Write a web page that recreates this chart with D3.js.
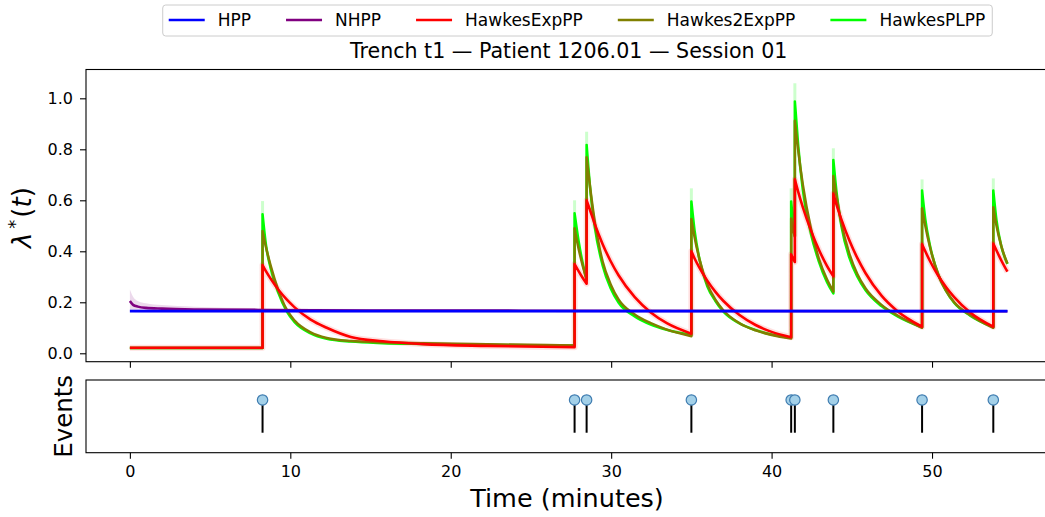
<!DOCTYPE html>
<html>
<head>
<meta charset="utf-8">
<script src="https://cdn.jsdelivr.net/npm/d3@7"></script>
<style>
body { margin: 0; background: #fff; }
text { font-family: "DejaVu Sans", sans-serif; fill: #000; }
</style>
</head>
<body>
<div id="main"></div>
<script>
// event times (minutes) and end of session
const eventTimes = [8.27, 27.72, 28.47, 35.0, 41.22, 41.45, 43.85, 49.38, 53.82];
const tEnd = 54.7;
const hppRate = 0.165;

// NHPP curve and its band
const nhppT = [0, 0.2, 0.5, 1, 2, 4, 8, 15, 25, 40, 54.7];
const nhppVal = [0.205, 0.19, 0.183, 0.178, 0.175, 0.172, 0.170, 0.168, 0.167, 0.166, 0.165];
const nhppUpper = [0.25, 0.222, 0.205, 0.196, 0.189, 0.183, 0.177, 0.174, 0.172, 0.171, 0.171];
const nhppLower = [0.165, 0.162, 0.161, 0.160, 0.160, 0.160, 0.160, 0.160, 0.160, 0.160, 0.160];

// sample times between events (one list per inter-event segment)
const segTimes = [
	[0, 8.27],
	[8.27, 8.47, 8.77, 9.27, 9.77, 10.27, 11.27, 12.27, 13.77, 15.77, 18.27, 22.27, 27.72],
	[27.72, 27.97, 28.22, 28.47],
	[28.47, 28.67, 28.97, 29.47, 29.97, 30.47, 31.47, 32.47, 33.47, 35.0],
	[35.0, 35.2, 35.5, 36.0, 36.5, 37.0, 38.0, 39.0, 40.0, 41.22],
	[41.22, 41.33, 41.45],
	[41.45, 41.65, 41.95, 42.45, 42.95, 43.45, 43.85],
	[43.85, 44.05, 44.35, 44.85, 45.35, 45.85, 46.85, 47.85, 49.38],
	[49.38, 49.58, 49.88, 50.38, 50.88, 51.38, 52.38, 53.82],
	[53.82, 54.02, 54.32, 54.7]
];

const hawkesExp = [
	[0.022, 0.022],
	[0.346, 0.323, 0.293, 0.248, 0.211, 0.180, 0.132, 0.100, 0.064, 0.047, 0.036, 0.029, 0.024],
	[0.350, 0.322, 0.296, 0.273],
	[0.600, 0.564, 0.508, 0.428, 0.361, 0.305, 0.220, 0.160, 0.118, 0.077],
	[0.400, 0.372, 0.336, 0.284, 0.241, 0.205, 0.150, 0.111, 0.084, 0.063],
	[0.388, 0.372, 0.358],
	[0.682, 0.635, 0.572, 0.482, 0.406, 0.343, 0.302],
	[0.626, 0.582, 0.525, 0.442, 0.373, 0.315, 0.226, 0.165, 0.104],
	[0.428, 0.400, 0.361, 0.305, 0.259, 0.220, 0.160, 0.104],
	[0.430, 0.403, 0.364, 0.320]
];

const hawkes2Exp = [
	[0.021, 0.021],
	[0.480, 0.420, 0.345, 0.245, 0.172, 0.128, 0.082, 0.060, 0.048, 0.043, 0.039, 0.035, 0.031],
	[0.490, 0.410, 0.345, 0.288],
	[0.769, 0.660, 0.520, 0.360, 0.270, 0.210, 0.152, 0.118, 0.093, 0.067],
	[0.527, 0.455, 0.370, 0.270, 0.210, 0.168, 0.118, 0.090, 0.072, 0.058],
	[0.529, 0.487, 0.457],
	[0.912, 0.800, 0.660, 0.490, 0.370, 0.290, 0.242],
	[0.695, 0.615, 0.510, 0.390, 0.310, 0.255, 0.190, 0.148, 0.100],
	[0.569, 0.500, 0.415, 0.310, 0.245, 0.200, 0.150, 0.100],
	[0.573, 0.500, 0.420, 0.352]
];

const hawkesPL = [
	[0.021, 0.021],
	[0.545, 0.430, 0.335, 0.235, 0.165, 0.122, 0.078, 0.057, 0.046, 0.040, 0.037, 0.033, 0.030],
	[0.549, 0.440, 0.355, 0.290],
	[0.817, 0.660, 0.500, 0.345, 0.255, 0.198, 0.145, 0.113, 0.092, 0.072],
	[0.595, 0.480, 0.370, 0.262, 0.205, 0.163, 0.117, 0.091, 0.074, 0.061],
	[0.595, 0.520, 0.460],
	[0.987, 0.820, 0.640, 0.470, 0.360, 0.280, 0.235],
	[0.758, 0.630, 0.500, 0.375, 0.300, 0.248, 0.185, 0.145, 0.102],
	[0.638, 0.525, 0.420, 0.310, 0.245, 0.198, 0.148, 0.102],
	[0.638, 0.520, 0.420, 0.350]
];
// upper edge of the PLPP band at each jump
const plBandPeak = [0.597, 0.600, 0.869, 0.647, 0.647, 1.059, 0.804, 0.682, 0.686];

const legendNames = ["HPP", "NHPP", "HawkesExpPP", "Hawkes2ExpPP", "HawkesPLPP"];
const legendColors = ["#0000ff", "#800080", "#ff0000", "#808000", "#00ff00"];
const yTicks = [0, 0.2, 0.4, 0.6, 0.8, 1.0];
const xTicks = [0, 10, 20, 30, 40, 50];

const width = 1045, height = 517;
const left = 86, right = 1051.3;
const top1 = 69.5, bot1 = 361.7;
const top2 = 380, bot2 = 452.7;

let x = d3.scaleLinear().domain([-2.735, 57.435]).range([left, right]);
let y = d3.scaleLinear().domain([-0.033, 1.113]).range([bot1, top1]);
let yEv = d3.scaleLinear().domain([-0.61, 1.61]).range([bot2, top2]);

let svg = d3.select("#main").append("svg")
	.attr("width", width)
	.attr("height", height);

// ---- top panel ----
// NHPP band
svg.append("path")
	.datum(nhppT.map((t, i) => [t, nhppLower[i], nhppUpper[i]]))
	.attr("d", d3.area().x(d => x(d[0])).y0(d => y(d[1])).y1(d => y(d[2])).curve(d3.curveMonotoneX))
	.attr("fill", "#800080")
	.attr("opacity", 0.15);

// PLPP band at the jumps
svg.append("g")
	.selectAll("line")
	.data(eventTimes)
	.enter()
	.append("line")
		.attr("x1", d => x(d)).attr("x2", d => x(d))
		.attr("y1", (d, i) => y(hawkesPL[i + 1][0]))
		.attr("y2", (d, i) => y(plBandPeak[i]))
		.attr("stroke", "#00ff00")
		.attr("stroke-opacity", 0.2)
		.attr("stroke-width", 3);

const segLine = d3.line().x(d => x(d[0])).y(d => y(d[1])).curve(d3.curveMonotoneX);
const hawkesPath = vals => segTimes.map((ts, i) => {
	const p = segLine(ts.map((t, j) => [t, vals[i][j]]));
	return i === 0 ? p : "L" + p.slice(1);
}).join("");

const drawLine = (d, color, w, op) => svg.append("path")
	.attr("d", d)
	.attr("fill", "none")
	.attr("stroke", color)
	.attr("stroke-width", w)
	.attr("stroke-opacity", op || 1)
	.attr("stroke-linejoin", "round");

drawLine(hawkesPath(hawkesPL), "#00ff00", 2.6);
drawLine(hawkesPath(hawkes2Exp), "#808000", 2.5);
drawLine(hawkesPath(hawkesExp), "#ff0000", 6, 0.12);
drawLine(hawkesPath(hawkesExp), "#ff0000", 2.6);
drawLine(d3.line().x(d => x(d[0])).y(d => y(d[1])).curve(d3.curveMonotoneX)(nhppT.map((t, i) => [t, nhppVal[i]])), "#800080", 2.6);
drawLine(d3.line()([[x(0), y(hppRate)], [x(tEnd), y(hppRate)]]), "#0000ff", 2.8);

// y axis
let gy = svg.append("g")
	.attr("transform", `translate(${left},0)`)
	.call(d3.axisLeft(y).tickValues(yTicks).tickFormat(d3.format(".1f")).tickSize(6).tickPadding(7));
gy.select(".domain").remove();
gy.selectAll("text").style("font-size", "16px").style("font-family", "DejaVu Sans");
gy.selectAll("line").attr("stroke", "#000").attr("stroke-width", 1.1);

// x ticks (no labels) for top panel
let gx1 = svg.append("g")
	.attr("transform", `translate(0,${bot1})`)
	.call(d3.axisBottom(x).tickValues(xTicks).tickSize(6).tickFormat(""));
gx1.select(".domain").remove();
gx1.selectAll("line").attr("stroke", "#000").attr("stroke-width", 1.1);

svg.append("rect")
	.attr("x", left).attr("y", top1)
	.attr("width", right - left).attr("height", bot1 - top1)
	.attr("fill", "none").attr("stroke", "#000").attr("stroke-width", 1.1);

// y label
let yl = svg.append("text")
	.attr("transform", `translate(31,${(top1 + bot1) / 2 + 2}) rotate(-90)`)
	.attr("text-anchor", "middle")
	.style("font-size", "26px");
yl.append("tspan").style("font-style", "italic").text("λ");
yl.append("tspan").attr("dy", -10).attr("dx", 4).style("font-size", "18px").text("*");
yl.append("tspan").attr("dy", 10).attr("dx", 2).text("(");
yl.append("tspan").style("font-style", "italic").text("t");
yl.append("tspan").text(")");

// title
svg.append("text")
	.attr("x", (left + right) / 2)
	.attr("y", 58)
	.attr("text-anchor", "middle")
	.style("font-size", "20.6px")
	.text("Trench t1 — Patient 1206.01 — Session 01");

// ---- bottom panel ----
svg.append("g")
	.selectAll("line")
	.data(eventTimes)
	.enter()
	.append("line")
		.attr("x1", d => x(d)).attr("x2", d => x(d))
		.attr("y1", yEv(0)).attr("y2", yEv(1))
		.attr("stroke", "#000")
		.attr("stroke-width", 2);

svg.append("g")
	.selectAll("circle")
	.data(eventTimes)
	.enter()
	.append("circle")
		.attr("cx", d => x(d))
		.attr("cy", yEv(1))
		.attr("r", 5.2)
		.attr("fill", "#a3d0e8")
		.attr("stroke", "#3f7cb0")
		.attr("stroke-width", 1.2);

let gx2 = svg.append("g")
	.attr("transform", `translate(0,${bot2})`)
	.call(d3.axisBottom(x).tickValues(xTicks).tickSize(6).tickPadding(7));
gx2.select(".domain").remove();
gx2.selectAll("text").style("font-size", "16px").style("font-family", "DejaVu Sans");
gx2.selectAll("line").attr("stroke", "#000").attr("stroke-width", 1.1);

svg.append("rect")
	.attr("x", left).attr("y", top2)
	.attr("width", right - left).attr("height", bot2 - top2)
	.attr("fill", "none").attr("stroke", "#000").attr("stroke-width", 1.1);

svg.append("text")
	.attr("transform", `translate(72,${(top2 + bot2) / 2}) rotate(-90)`)
	.attr("text-anchor", "middle")
	.style("font-size", "24.5px")
	.text("Events");

svg.append("text")
	.attr("x", 567)
	.attr("y", 507)
	.attr("text-anchor", "middle")
	.style("font-size", "25.5px")
	.text("Time (minutes)");

// ---- legend ----
let leg = svg.append("g");
let box = leg.append("rect")
	.attr("fill", "#fff")
	.attr("stroke", "#cccccc")
	.attr("stroke-width", 1)
	.attr("rx", 3);
let cx = 0;
const handleLen = 36, handleGap = 13, colGap = 35;
legendNames.forEach((name, i) => {
	leg.append("line")
		.attr("x1", cx).attr("x2", cx + handleLen)
		.attr("y1", 20).attr("y2", 20)
		.attr("stroke", legendColors[i])
		.attr("stroke-width", 2.6);
	let t = leg.append("text")
		.attr("x", cx + handleLen + handleGap)
		.attr("y", 26)
		.style("font-size", "17px")
		.text(name);
	cx += handleLen + handleGap + t.node().getComputedTextLength() + colGap;
});
let legW = cx - colGap;
box.attr("x", -6).attr("y", 5).attr("width", legW + 13).attr("height", 31);
leg.attr("transform", `translate(${577 - legW / 2},0)`);
</script>
</body>
</html>
